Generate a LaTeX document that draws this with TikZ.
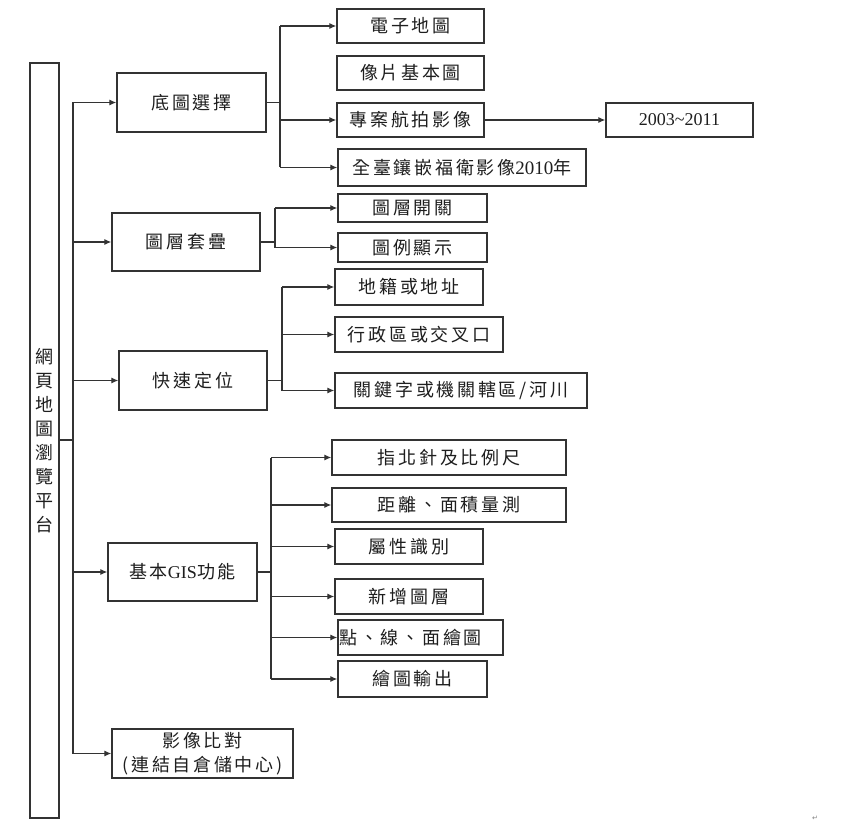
\documentclass[tikz,border=0pt]{standalone}
\usepackage{fontspec}
\setmainfont{Liberation Serif}
\newfontfamily\cjk[LetterSpace=15]{Noto Sans CJK TC}
\newfontfamily\cjkn{Noto Sans CJK TC}
\newfontfamily\dejavu{DejaVu Sans}
\usetikzlibrary{arrows.meta}
\definecolor{ln}{HTML}{333333}
\definecolor{tx}{HTML}{1E1E1E}
\tikzset{
  box/.style={draw=ln, line width=1.3pt, inner sep=0pt, font=\cjk\fontsize{18}{22}\selectfont, text=tx},
  conn/.style={draw=ln, line width=1.2pt},
  arr/.style={conn, -{Latex[length=7pt,width=6pt]}},
}
\begin{document}
\begin{tikzpicture}[x=1pt,y=-1pt]
\useasboundingbox[fill=white] (0,0) rectangle (868,824);
% root
\node[box, minimum width=29pt, minimum height=755pt, align=center,
      font=\cjkn\fontsize{18}{24}\selectfont] (root) at (44.5,440.5)
      {網\\頁\\地\\圖\\瀏\\覽\\平\\台};
% level 1
\node[box, minimum width=149pt, minimum height=59pt] (b1) at (191.5,102.5) {底圖選擇};
\node[box, minimum width=148pt, minimum height=58pt] (b2) at (186,242) {圖層套疊};
\node[box, minimum width=148pt, minimum height=59pt] (b3) at (193,380.5) {快速定位};
\node[box, minimum width=149pt, minimum height=58pt] (b4) at (182.5,572) {基本{\rmfamily\fontsize{18}{22}\selectfont GIS}功能};
\node[box, minimum width=181pt, minimum height=49pt, align=center,
      font=\cjk\fontsize{18}{24}\selectfont] (b5) at (202.5,753.5) {影像比對\\(連結自倉儲中心)};
% level 2: b1
\node[box, minimum width=147pt, minimum height=34pt] (c11) at (410.5,26) {電子地圖};
\node[box, minimum width=147pt, minimum height=34pt] (c12) at (410.5,73) {像片基本圖};
\node[box, minimum width=147pt, minimum height=34pt] (c13) at (410.5,120) {專案航拍影像};
\node[box, minimum width=147pt, minimum height=34pt, font=\rmfamily\fontsize{18}{20}\selectfont] (c14) at (679.5,120) {2003\textasciitilde 2011};
\node[box, minimum width=248pt, minimum height=37pt] (c15) at (462,167.5) {全臺鑲嵌福衛影像{\rmfamily\fontsize{19}{22}\selectfont 2010}年};
% b2
\node[box, minimum width=149pt, minimum height=28pt] (c21) at (412.5,208) {圖層開關};
\node[box, minimum width=149pt, minimum height=29pt] (c22) at (412.5,247.5) {圖例顯示};
% b3
\node[box, minimum width=148pt, minimum height=36pt] (c31) at (409,287) {地籍或地址};
\node[box, minimum width=168pt, minimum height=35pt] (c32) at (419,334.5) {行政區或交叉口};
\node[box, minimum width=252pt, minimum height=35pt] (c33) at (461,390.5) {關鍵字或機關轄區/河川};
% b4
\node[box, minimum width=234pt, minimum height=35pt] (c41) at (449,457.5) {指北針及比例尺};
\node[box, minimum width=234pt, minimum height=34pt] (c42) at (449,505) {距離、面積量測};
\node[box, minimum width=148pt, minimum height=35pt] (c43) at (409,546.5) {屬性識別};
\node[box, minimum width=148pt, minimum height=35pt] (c44) at (409,596.5) {新增圖層};
\node[box, minimum width=165pt, minimum height=35pt, text width=162pt, inner xsep=1.5pt, align=left] (c45) at (420.5,637.5) {點、線、面繪圖};
\node[box, minimum width=149pt, minimum height=36pt] (c46) at (412.5,679) {繪圖輸出};
% paragraph mark
\node[font=\dejavu\fontsize{7}{7}\selectfont, text=gray, inner sep=0pt] (pm) at (815,818) {↵};
% junctions
\coordinate (sp) at (73,440);
\coordinate (j1) at (280,102.5);
\coordinate (j2) at (275,242);
\coordinate (j3) at (282,380.5);
\coordinate (j4) at (271,572);
% spine
\draw[conn, line width=1.6pt] (root.east |- sp) -- (sp);
\draw[conn] (b1.west -| sp) -- (b5.west -| sp);
\foreach \b in {b1,b2,b3,b4,b5} \draw[arr] (\b.west -| sp) -- (\b.west);
% b1 branch
\draw[conn, line width=1.6pt] (b1.east) -- (j1);
\draw[conn] (c11.west -| j1) -- (c15.west -| j1);
\foreach \c in {c11,c13,c15} \draw[arr] (\c.west -| j1) -- (\c.west);
\draw[arr] (c13.east) -- (c14.west);
% b2 branch
\draw[conn, line width=1.6pt] (b2.east) -- (j2);
\draw[conn] (c21.west -| j2) -- (c22.west -| j2);
\foreach \c in {c21,c22} \draw[arr] (\c.west -| j2) -- (\c.west);
% b3 branch
\draw[conn, line width=1.6pt] (b3.east) -- (j3);
\draw[conn] (c31.west -| j3) -- (c33.west -| j3);
\foreach \c in {c31,c32,c33} \draw[arr] (\c.west -| j3) -- (\c.west);
% b4 branch
\draw[conn, line width=1.6pt] (b4.east) -- (j4);
\draw[conn] (c41.west -| j4) -- (c46.west -| j4);
\foreach \c in {c41,c42,c43,c44,c45,c46} \draw[arr] (\c.west -| j4) -- (\c.west);
\end{tikzpicture}
\end{document}
